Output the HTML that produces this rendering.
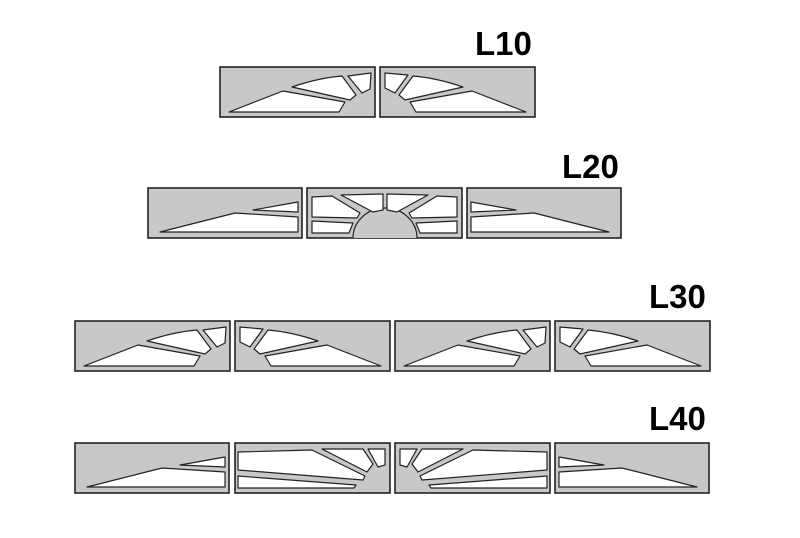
<!DOCTYPE html>
<html><head><meta charset="utf-8"><style>
html,body{margin:0;padding:0;background:#fff;}
svg{display:block;}
text{font-family:"Liberation Sans",sans-serif;font-weight:bold;font-size:33px;fill:#000;}
.p{fill:#c8c8c8;stroke:#222;stroke-width:1.6;}
.h{fill:#fff;stroke:#222;stroke-width:1.2;stroke-linejoin:round;}
</style></head><body>
<svg width="800" height="538" viewBox="0 0 800 538">
<defs>
<!-- L10-type left panel, origin 220,67 -->
<g id="A">
<rect class="p" x="220" y="67" width="155" height="50"/>
<polygon class="h" points="229,112 283,91 345,102 339,112"/>
<path class="h" d="M292,87 Q318,78 342,76 L356,95 L350,100 Z"/>
<polygon class="h" points="348,76 371,73 370,89 362,93"/>
</g>
<g id="B">
<rect class="p" x="380" y="67" width="155" height="50"/>
<polygon class="h" points="526,112 472,91 410,102 416,112"/>
<path class="h" d="M463,87 Q437,78 413,76 L399,95 L405,100 Z"/>
<polygon class="h" points="385,73 408,75 395,93 385,88"/>
</g>
<!-- L20 left panel origin 148,188 -->
<g id="C">
<rect class="p" x="148" y="188" width="154" height="50"/>
<polygon class="h" points="160,232 235,213 298,217 298,232"/>
<polygon class="h" points="253,210 298,202 298,212"/>
</g>
<g id="D">
<rect class="p" x="467" y="188" width="154" height="50"/>
<polygon class="h" points="609,232 534,213 471,217 471,232"/>
<polygon class="h" points="516,210 471,202 471,212"/>
</g>
<!-- L40 second panel -->
<g id="E">
<rect class="p" x="235" y="443" width="155" height="50"/>
<polygon class="h" points="238,452 312,450 365,476 363,480 238,470"/>
<polygon class="h" points="238,476 356,485 354,488 238,488"/>
<polygon class="h" points="322,449 363,449 373,464 367,472"/>
<polygon class="h" points="368,449 385,449 385,465 378,467"/>
</g>
</defs>

<text x="475" y="55">L10</text>
<use href="#A"/><use href="#B"/>

<text x="562" y="178">L20</text>
<use href="#C"/>
<rect class="p" x="307" y="188" width="155" height="50"/>
<path d="M353,238 A32 30 0 0 1 417,238" fill="#c8c8c8" stroke="#222" stroke-width="1.2"/>
<polygon class="h" points="312,197 332,196 360,213 357,218 312,217"/>
<polygon class="h" points="312,221 353,223 349,233 312,233"/>
<polygon class="h" points="341,195 383,194 383,210 373,212"/>
<polygon class="h" points="457,197 437,196 409,213 412,218 457,217"/>
<polygon class="h" points="457,221 416,223 420,233 457,233"/>
<polygon class="h" points="428,195 387,194 387,210 397,212"/>
<use href="#D"/>

<text x="649" y="308">L30</text>
<g transform="translate(-145,254)"><use href="#A"/><use href="#B"/></g>
<g transform="translate(175,254)"><use href="#A"/><use href="#B"/></g>

<text x="649" y="430">L40</text>
<g transform="translate(-73,255)"><use href="#C"/></g>
<use href="#E"/>
<g transform="translate(785,0) scale(-1,1)"><use href="#E"/></g>
<g transform="translate(88,255)"><use href="#D"/></g>
</svg>
</body></html>
